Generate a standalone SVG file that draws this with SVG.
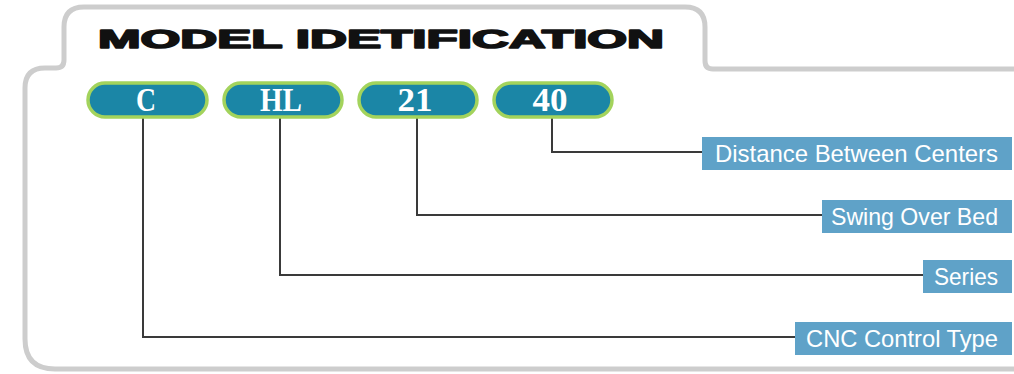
<svg xmlns="http://www.w3.org/2000/svg" width="1014" height="374" viewBox="0 0 1014 374">
<style>
.pill{fill:#1b86a6;stroke:#a3d35c;stroke-width:3.5}
.pt{font-family:"Liberation Serif",serif;font-weight:bold;font-size:33px;fill:#fff;text-anchor:middle}
.lab{fill:#5fa2c8}
.lt{font-family:"Liberation Sans",Arial,sans-serif;font-size:24px;fill:#fff;text-anchor:end}
.con{fill:none;stroke:#3a3a3a;stroke-width:2}
</style>
<rect width="1014" height="374" fill="#fff"/>
<path d="M 1020 69 H 713 Q 705 69 705 61 V 27 Q 705 7 685 7 H 84 Q 64 7 64 27 V 60 Q 64 68 56 68 H 45 Q 25 68 25 88 V 339 Q 25 369 55 369 H 1020" fill="none" stroke="#cdcdcd" stroke-width="5"/>
<text x="98" y="48" font-family="Liberation Sans,Arial,sans-serif" font-weight="bold" font-size="25" textLength="566" lengthAdjust="spacingAndGlyphs" fill="#111" stroke="#111" stroke-width="1.6" stroke-linejoin="round">MODEL IDETIFICATION</text>
<g id="connectors">
<path class="con" d="M 143 117 V 337 H 797"/>
<path class="con" d="M 280 117 V 275 H 925"/>
<path class="con" d="M 417 117 V 215 H 824"/>
<path class="con" d="M 552 117 V 152 H 704"/>
</g>
<g id="pill-c"><rect class="pill" x="88" y="83" width="119" height="34" rx="17"/><text class="pt" x="146" y="111" textLength="20" lengthAdjust="spacingAndGlyphs">C</text></g>
<g id="pill-hl"><rect class="pill" x="224" y="83" width="118" height="34" rx="17"/><text class="pt" x="281" y="111" textLength="42" lengthAdjust="spacingAndGlyphs">HL</text></g>
<g id="pill-21"><rect class="pill" x="359" y="83" width="118" height="34" rx="17"/><text class="pt" x="415" y="111" textLength="35" lengthAdjust="spacingAndGlyphs">21</text></g>
<g id="pill-40"><rect class="pill" x="494" y="83" width="118" height="34" rx="17"/><text class="pt" x="550" y="111" textLength="35" lengthAdjust="spacingAndGlyphs">40</text></g>
<g id="label-distance"><rect class="lab" x="702" y="137" width="310" height="33"/><text class="lt" x="998" y="162" textLength="283" lengthAdjust="spacingAndGlyphs">Distance Between Centers</text></g>
<g id="label-swing"><rect class="lab" x="822" y="200" width="190" height="33"/><text class="lt" x="998" y="225" textLength="167" lengthAdjust="spacingAndGlyphs">Swing Over Bed</text></g>
<g id="label-series"><rect class="lab" x="923" y="260" width="89" height="33"/><text class="lt" x="998" y="285" textLength="64" lengthAdjust="spacingAndGlyphs">Series</text></g>
<g id="label-cnc"><rect class="lab" x="795" y="322" width="217" height="33"/><text class="lt" x="998" y="347" textLength="192" lengthAdjust="spacingAndGlyphs">CNC Control Type</text></g>
</svg>
